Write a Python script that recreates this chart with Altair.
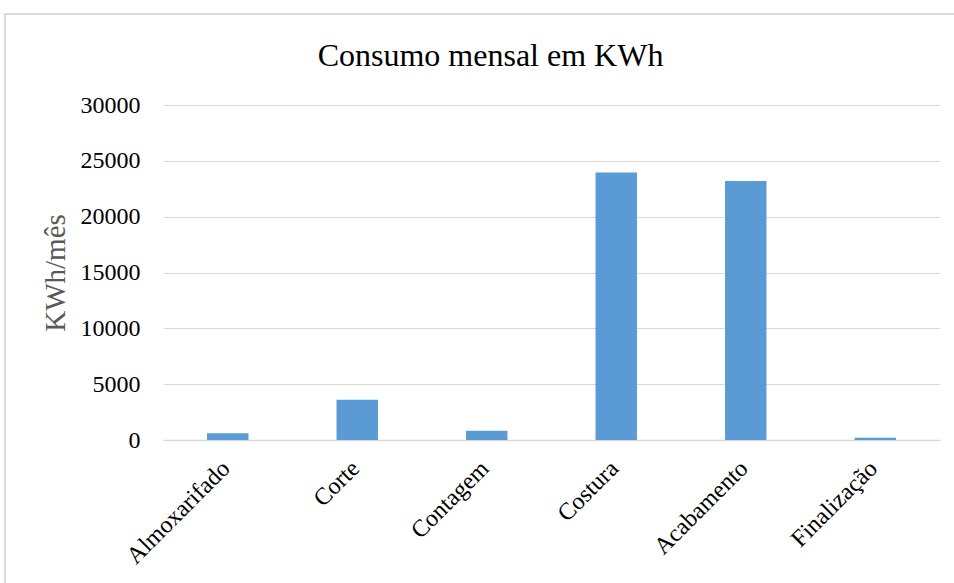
import altair as alt
import pandas as pd

setores = ["Almoxarifado", "Corte", "Contagem", "Costura", "Acabamento", "Finalização"]
consumo = [600, 3600, 820, 23950, 23200, 200]

df = pd.DataFrame({"setor": setores, "kwh": consumo})

FONT = "Liberation Serif"

bars = alt.Chart(df).mark_bar(color="#5b9bd5").encode(
    x=alt.X("setor:N", sort=setores, title=None,
            scale=alt.Scale(paddingInner=0.68, paddingOuter=0.34),
            axis=alt.Axis(labelAngle=-45, labelFont=FONT, labelFontSize=24,
                          labelColor="#000000", ticks=False, domainColor="#d9d9d9",
                          domainWidth=1.5, labelPadding=16, labelOffset=-10)),
    y=alt.Y("kwh:Q", title="KWh/mês",
            scale=alt.Scale(domain=[0, 30000], nice=False),
            axis=alt.Axis(values=[0, 5000, 10000, 15000, 20000, 25000, 30000],
                          format="d", labelFont=FONT, labelFontSize=24,
                          labelColor="#000000", ticks=False, domain=False,
                          gridColor="#d9d9d9", titleFont=FONT, titleFontSize=29,
                          titleFontWeight="normal", titleColor="#595959",
                          titlePadding=10, labelPadding=23)),
)

border = alt.Chart(df).mark_rect(fill=None, stroke="#d9d9d9", strokeWidth=1.5, clip=False).encode(
    x=alt.value(-158), x2=alt.value(800), y=alt.value(-91), y2=alt.value(490)
)

chart = alt.layer(border, bars).properties(
    width=777, height=335,
    title=alt.TitleParams("Consumo mensal em KWh", font=FONT, fontSize=32,
                          fontWeight="normal", color="#000000", offset=-60, dx=-61,
                          frame="group", anchor="middle"),
    autosize=alt.AutoSizeParams(type="none"),
    padding={"left": 163, "top": 105, "right": 14, "bottom": 143},
).configure_view(stroke=None)

chart.save("out.html", embed_options={"renderer": "svg", "actions": False})
